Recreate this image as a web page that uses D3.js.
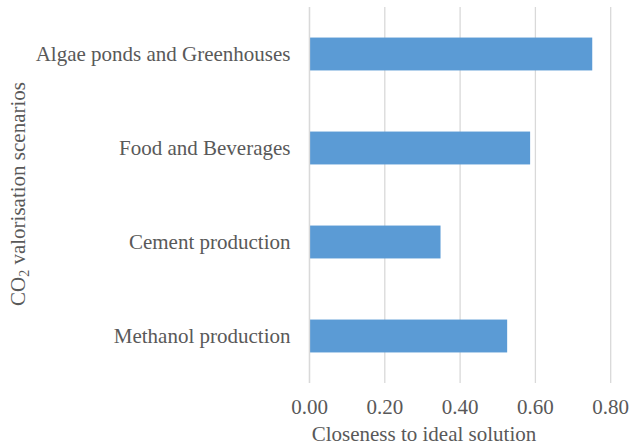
<!DOCTYPE html>
<html><head><meta charset="utf-8">
<script src="https://cdn.jsdelivr.net/npm/d3@7"></script>
<style>body{margin:0;background:#fff}svg{display:block}</style>
</head><body><div id="chart"></div>
<script>
const categories = ["Algae ponds and Greenhouses","Food and Beverages","Cement production","Methanol production"];
const values = [0.751, 0.586, 0.348, 0.525];
const xTicks = [0, 0.2, 0.4, 0.6, 0.8];
const xTitle = "Closeness to ideal solution";

const W = 630, H = 446;
const m = {left: 309.5, right: 630 - 610.7, top: 7, bottom: 446 - 383};
const svg = d3.select("#chart").append("svg").attr("width", W).attr("height", H)
  .style("font-family", "'Liberation Serif','Times New Roman',serif");

const x = d3.scaleLinear().domain([0, 0.8]).range([m.left, W - m.right]);
const y = d3.scaleBand().domain(categories).range([m.top, H - m.bottom]).paddingInner(0.65).paddingOuter(0.325);

// gridlines
svg.append("g").selectAll("line").data(xTicks).join("line")
  .attr("x1", d => x(d)).attr("x2", d => x(d))
  .attr("y1", m.top).attr("y2", H - m.bottom)
  .attr("stroke", "#d9d9d9").attr("stroke-width", 1.3);

// bars
svg.append("g").selectAll("rect").data(categories).join("rect")
  .attr("x", x(0)).attr("y", d => y(d))
  .attr("width", (d, i) => x(values[i]) - x(0))
  .attr("height", y.bandwidth())
  .attr("fill", "#5b9bd5");

// left axis line
svg.append("line").attr("x1", x(0)).attr("x2", x(0)).attr("y1", m.top).attr("y2", H - m.bottom)
  .attr("stroke", "#d9d9d9").attr("stroke-width", 1.3);

// category labels
svg.append("g").selectAll("text").data(categories).join("text")
  .attr("x", x(0) - 19).attr("y", d => y(d) + y.bandwidth() / 2)
  .attr("dy", "0.35em").attr("text-anchor", "end")
  .attr("fill", "#595959").attr("font-size", 21)
  .text(d => d);

// x tick labels
const fmt = d3.format(".2f");
svg.append("g").selectAll("text").data(xTicks).join("text")
  .attr("x", d => x(d)).attr("y", 414)
  .attr("text-anchor", "middle").attr("fill", "#595959").attr("font-size", 21)
  .text(d => fmt(d));

// x title
svg.append("text").attr("x", 424).attr("y", 441).attr("text-anchor", "middle")
  .attr("fill", "#595959").attr("font-size", 21).text(xTitle);

// y title
const yt = svg.append("text").attr("transform", "translate(25,194) rotate(-90)")
  .attr("text-anchor", "middle").attr("fill", "#595959").attr("font-size", 21);
yt.append("tspan").text("CO");
yt.append("tspan").attr("font-size", 14).attr("dy", 4).text("2");
yt.append("tspan").attr("dy", -4).text(" valorisation scenarios");
</script></body></html>
